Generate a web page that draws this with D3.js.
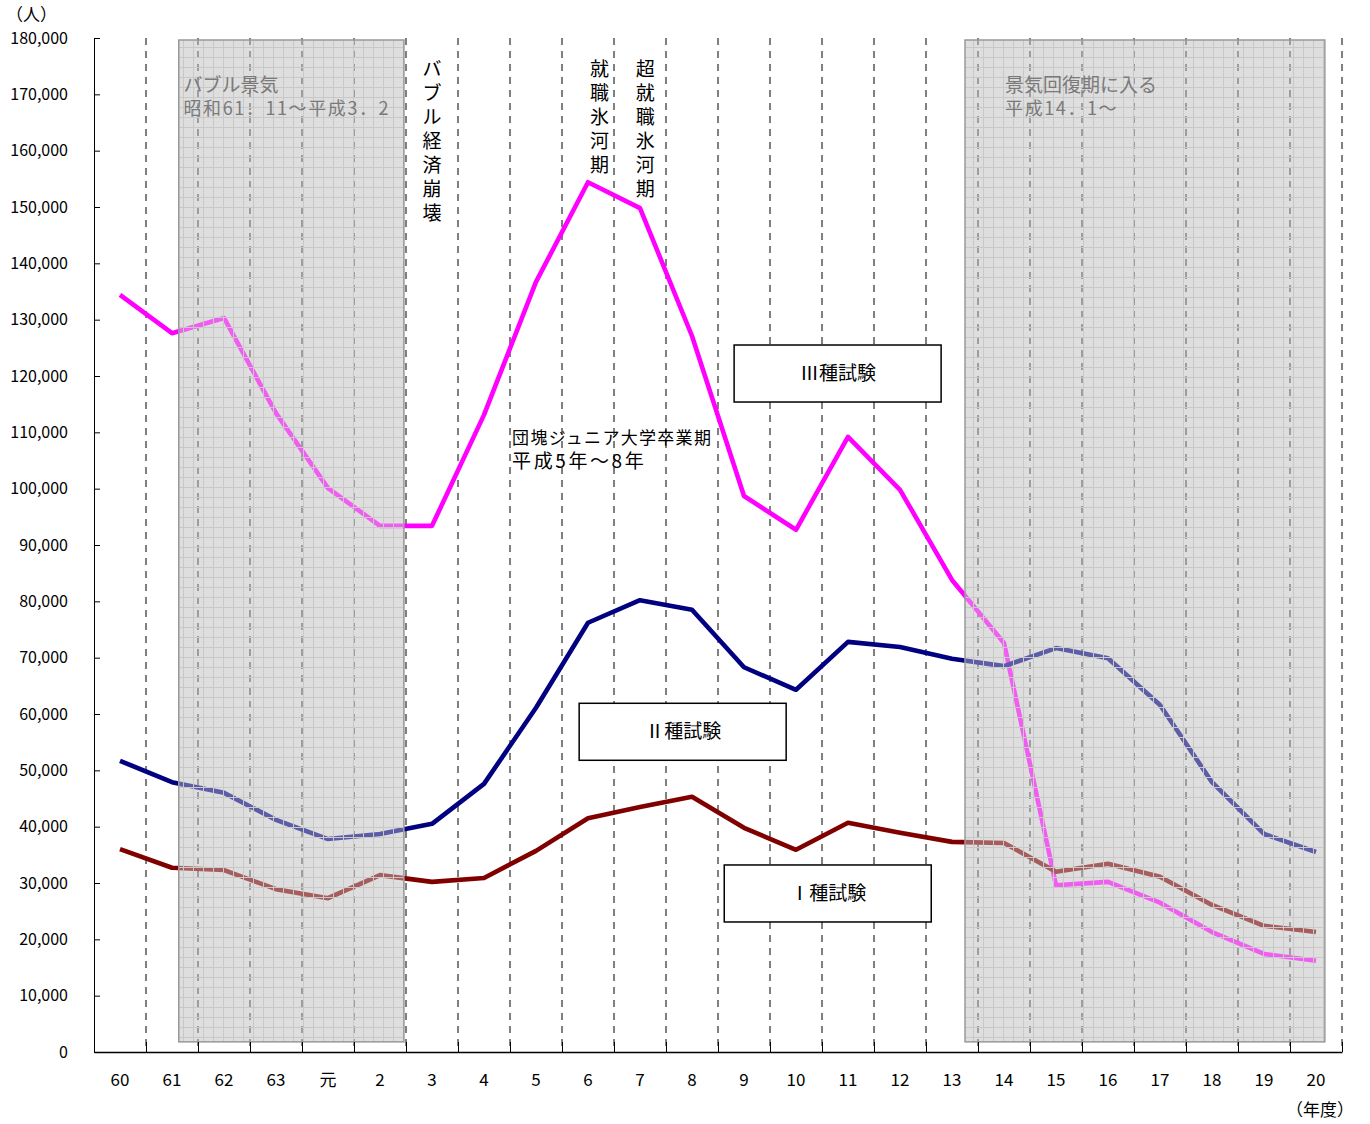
<!DOCTYPE html>
<html>
<head>
<meta charset="utf-8">
<script src="https://cdn.jsdelivr.net/npm/d3@7"></script>
<style>
  body { margin: 0; background: #fff; }
  text { font-family: "Noto Sans CJK JP", "Noto Sans", sans-serif; }
</style>
</head>
<body>
<div id="chart"></div>
<script>
// fiscal years (Showa 60 .. Heisei 20)
var years = ["60", "61", "62", "63", "元", "2", "3", "4", "5", "6", "7", "8", "9", "10", "11", "12", "13", "14", "15", "16", "17", "18", "19", "20"];

var type3 = [134400, 127600, 130300, 113400, 100100, 93400, 93400, 113100, 136700, 154400, 149800, 127100, 98700, 92700, 109200, 99800, 83800, 72600, 29600, 30200, 26500, 21300, 17400, 16200];
var type2 = [51700, 47900, 46000, 41200, 37800, 38700, 40500, 47600, 61100, 76200, 80200, 78500, 68300, 64300, 72800, 71900, 69800, 68500, 71700, 69900, 61600, 47900, 38700, 35500];
var type1 = [36000, 32700, 32300, 28900, 27300, 31400, 30200, 30900, 35700, 41500, 43500, 45300, 39800, 35900, 40700, 38900, 37300, 37100, 32000, 33400, 31100, 26100, 22400, 21300];

var yTicks = d3.range(0, 180001, 10000);

// shaded periods, in category index units
var periods = [
    {start: 1.13, end: 5.46, textAt: 1.22, title: "バブル景気", sub: "昭和61．11～平成3．2"},
    {start: 16.25, end: 23.17, textAt: 17.02, title: "景気回復期に入る", sub: "平成14．1～"}
];

var series = [
    {name: "Ⅲ種試験", values: type3, color: "#ff00ff", box: {i: 11.81, v: 125500}},
    {name: "Ⅱ種試験", values: type2, color: "#000080", box: {i: 8.83, v: 61900}},
    {name: "Ⅰ種試験", values: type1, color: "#800000", box: {i: 11.62, v: 33200}}
];

var margin = {top: 38, right: 28, bottom: 72, left: 94};
var width = 1370 - margin.left - margin.right;
var height = 1124 - margin.top - margin.bottom;

var svg = d3.select("#chart").append("svg")
    .attr("width", 1370)
    .attr("height", 1124);

var defs = svg.append("defs");
var pat = defs.append("pattern")
    .attr("id", "grid")
    .attr("patternUnits", "userSpaceOnUse")
    .attr("width", 10).attr("height", 10);
pat.append("path")
    .attr("d", "M9.5 0V10M0 9.5H10")
    .attr("stroke", "#c8c8c8")
    .attr("stroke-width", 1)
    .attr("fill", "none");

var g = svg.append("g")
    .attr("transform", "translate(" + margin.left + "," + margin.top + ")");

var x = d3.scaleLinear()
    .domain([-0.5, years.length - 0.5])
    .range([0, width]);

var y = d3.scaleLinear()
    .domain([0, 180000])
    .range([height, 0]);

function periodRect(sel, p) {
    return sel.append("rect")
        .attr("x", x(p.start)).attr("y", y(180000) + 2)
        .attr("width", x(p.end) - x(p.start))
        .attr("height", y(1800) - y(180000) - 2);
}

// shaded background
periods.forEach(function(p) {
    periodRect(g, p).attr("fill", "#dedede");
    periodRect(g, p).attr("fill", "url(#grid)");
});

// dashed separators
var bounds = d3.range(0.5, years.length, 1);
g.selectAll(".sep")
    .data(bounds)
    .enter().append("line")
    .attr("class", "sep")
    .attr("x1", function(d) { return x(d); })
    .attr("x2", function(d) { return x(d); })
    .attr("y1", 0)
    .attr("y2", height)
    .attr("stroke", "#000")
    .attr("stroke-width", 1)
    .attr("stroke-dasharray", "7,6");

// lines
var line = d3.line()
    .x(function(d, i) { return x(i); })
    .y(function(d) { return y(d); });

g.selectAll(".series")
    .data(series)
    .enter().append("path")
    .attr("class", "series")
    .attr("d", function(d) { return line(d.values); })
    .attr("fill", "none")
    .attr("stroke", function(d) { return d.color; })
    .attr("stroke-width", 4.6)
    .attr("stroke-linejoin", "round");

// overlay of shaded periods
periods.forEach(function(p) {
    var r = g.append("g");
    periodRect(r, p)
        .attr("fill", "#dedede")
        .attr("fill-opacity", 0.42);
    periodRect(r, p)
        .attr("fill", "url(#grid)")
        .attr("stroke", "#999")
        .attr("stroke-width", 1.5);
    r.append("text")
        .attr("x", x(p.textAt))
        .attr("y", 54)
        .attr("fill", "#7a7a7a")
        .attr("font-size", "19px")
        .text(p.title);
    r.append("text")
        .attr("x", x(p.textAt))
        .attr("y", 77)
        .attr("fill", "#7a7a7a")
        .attr("font-size", "18px")
        .attr("letter-spacing", "1.6px")
        .text(p.sub);
});

// axes
var yAxis = d3.axisLeft(y)
    .tickValues(yTicks)
    .tickSizeInner(-6)
    .tickSizeOuter(0)
    .tickPadding(26)
    .tickFormat(d3.format(","));

g.append("g")
    .attr("class", "y-axis")
    .call(yAxis)
    .call(function(s) {
        s.selectAll("text").attr("font-size", "16px").attr("fill", "#000")
            .style("font-family", "'Noto Sans CJK JP', sans-serif");
        s.selectAll("line, path").attr("stroke", "#000");
    });

var xAxis = d3.axisBottom(x)
    .tickValues(bounds)
    .tickSizeInner(-10)
    .tickSizeOuter(0)
    .tickFormat("");

g.append("g")
    .attr("class", "x-axis")
    .attr("transform", "translate(0," + height + ")")
    .call(xAxis)
    .call(function(s) {
        s.selectAll("line, path").attr("stroke", "#000");
        s.select("path").attr("stroke-width", 1.5);
    });

g.selectAll(".xlab")
    .data(years)
    .enter().append("text")
    .attr("class", "xlab")
    .attr("x", function(d, i) { return x(i); })
    .attr("y", height + 34)
    .attr("text-anchor", "middle")
    .attr("font-size", "17px")
    .text(function(d) { return d; });

svg.append("text")
    .attr("x", 6).attr("y", 21)
    .attr("font-size", "17px")
    .text("（人）");

svg.append("text")
    .attr("x", 1286).attr("y", 1116)
    .attr("font-size", "17px")
    .text("（年度）");

// vertical annotations
var vNotes = [
    {i: 6, text: "バブル経済崩壊"},
    {i: 9.22, text: "就職氷河期"},
    {i: 10.1, text: "超就職氷河期"}
];
vNotes.forEach(function(n) {
    var chars = n.text.split("");
    g.selectAll(null)
        .data(chars)
        .enter().append("text")
        .attr("x", x(n.i))
        .attr("y", function(d, k) { return 38 + k * 24; })
        .attr("text-anchor", "middle")
        .attr("font-size", "19px")
        .text(function(d) { return d; });
});

g.append("text")
    .attr("x", x(7.54))
    .attr("y", y(107900))
    .attr("font-size", "17px")
    .attr("letter-spacing", "1.3px")
    .text("団塊ジュニア大学卒業期");
g.append("text")
    .attr("x", x(7.54))
    .attr("y", y(103700))
    .attr("font-size", "19px")
    .attr("letter-spacing", "2.6px")
    .text("平成5年～8年");

// series label boxes
series.forEach(function(s) {
    var bx = x(s.box.i), by = y(s.box.v);
    g.append("rect")
        .attr("x", bx).attr("y", by)
        .attr("width", 207).attr("height", 57)
        .attr("fill", "#fff")
        .attr("stroke", "#000")
        .attr("stroke-width", 1.5);
    g.append("text")
        .attr("x", bx + 104).attr("y", by + 35)
        .attr("text-anchor", "middle")
        .attr("font-size", "19px")
        .text(s.name);
});
</script>
</body>
</html>
